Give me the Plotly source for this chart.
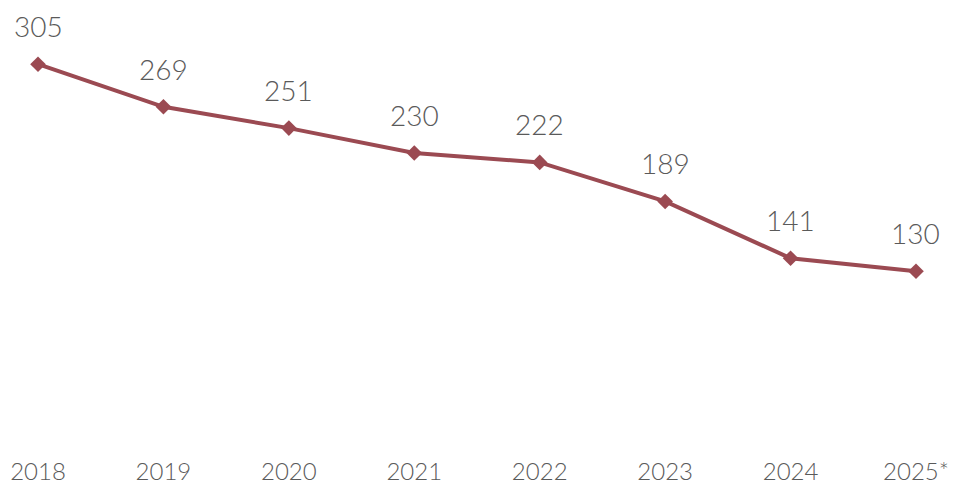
import plotly.graph_objects as go

years = ["2018", "2019", "2020", "2021", "2022", "2023", "2024", "2025*"]
values = [305, 269, 251, 230, 222, 189, 141, 130]

line_color = "#9b4a52"
text_color = "#5a5a5a"
font_family = "Lato, 'Open Sans', sans-serif"

fig = go.Figure()
fig.add_trace(go.Scatter(
    x=years,
    y=values,
    mode="lines+markers",
    line=dict(color=line_color, width=4),
    marker=dict(symbol="diamond", size=12, color=line_color),
    hoverinfo="x+y",
))

# Value labels above each point (category index keeps numeric-looking years on the category axis)
for i, v in enumerate(values):
    fig.add_annotation(
        x=i, y=v, text=str(v), showarrow=False, yshift=38,
        font=dict(family=font_family, size=28, color=text_color, weight=300),
    )

fig.update_layout(
    width=956, height=487,
    margin=dict(l=0, r=0, t=0, b=62),
    paper_bgcolor="white", plot_bgcolor="white",
    showlegend=False,
    xaxis=dict(
        type="category", range=[-0.303, 7.319],
        showgrid=False, zeroline=False, showline=False, ticks="",
        ticklabelstandoff=30,
        tickfont=dict(family=font_family, size=24, color=text_color, weight=300),
    ),
    yaxis=dict(
        range=[0, 359.3], visible=False,
    ),
)

fig.write_html("out.html")
